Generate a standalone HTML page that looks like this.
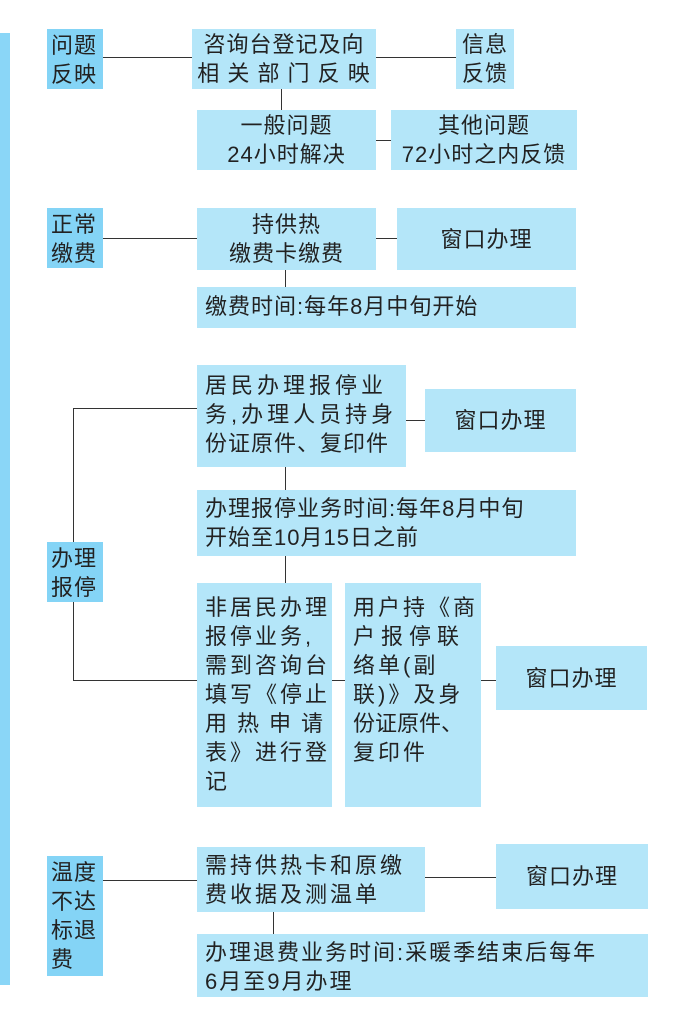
<!DOCTYPE html>
<html><head><meta charset="utf-8"><style>
body{margin:0;width:681px;height:1019px;background:#fff;position:relative;overflow:hidden;font-family:"Liberation Sans","Noto Sans CJK SC",sans-serif;color:#222}
.b{position:absolute;background:#b4e6f9;font-size:22px;line-height:29px;box-sizing:border-box;letter-spacing:1px;white-space:nowrap}
.c{background:#84d4f6;padding:2px 4px;line-height:29px}
.ctr{display:flex;align-items:center;justify-content:center;text-align:center}
.l{padding:4px 8px}
.h{position:absolute;height:1.3px;background:#333}
.v{position:absolute;width:1.3px;background:#333}
</style></head><body>
<div style="position:absolute;left:0;top:33px;width:10px;height:952px;background:#8ad6f7"></div>

<div class="h" style="left:102px;top:57px;width:90px"></div>
<div class="h" style="left:376px;top:57px;width:80px"></div>
<div class="v" style="left:281px;top:89px;height:21px"></div>
<div class="h" style="left:376px;top:140px;width:15px"></div>
<div class="h" style="left:102px;top:238px;width:95px"></div>
<div class="h" style="left:376px;top:238px;width:21px"></div>
<div class="v" style="left:285px;top:270px;height:17px"></div>
<div class="v" style="left:73px;top:408px;height:273px"></div>
<div class="h" style="left:73px;top:408px;width:124px"></div>
<div class="h" style="left:73px;top:680px;width:124px"></div>
<div class="h" style="left:406px;top:420px;width:19px"></div>
<div class="v" style="left:285px;top:467px;height:116px"></div>
<div class="h" style="left:332px;top:680px;width:13px"></div>
<div class="h" style="left:481px;top:680px;width:15px"></div>
<div class="h" style="left:102px;top:880px;width:95px"></div>
<div class="h" style="left:425px;top:877px;width:71px"></div>
<div class="v" style="left:273px;top:912px;height:22px"></div>

<div class="b c" style="left:47px;top:29px;width:56px;height:60px">问题<br>反映</div>
<div class="b c" style="left:47px;top:208px;width:56px;height:60px">正常<br>缴费</div>
<div class="b c" style="left:47px;top:542px;width:56px;height:60px">办理<br>报停</div>
<div class="b c" style="left:47px;top:856px;width:56px;height:120px">温度<br>不达<br>标退<br>费</div>

<div class="b ctr" style="left:192px;top:29px;width:184px;height:60px">咨询台登记及向<br>相 关 部 门 反 映</div>
<div class="b ctr" style="left:456px;top:29px;width:58px;height:60px">信息<br>反馈</div>
<div class="b ctr" style="left:197px;top:110px;width:179px;height:60px">一般问题<br>24小时解决</div>
<div class="b ctr" style="left:391px;top:110px;width:186px;height:60px">其他问题<br>72小时之内反馈</div>
<div class="b ctr" style="left:197px;top:208px;width:179px;height:62px">持供热<br>缴费卡缴费</div>
<div class="b ctr" style="left:397px;top:208px;width:179px;height:62px">窗口办理</div>
<div class="b l" style="left:197px;top:287px;width:379px;height:41px;padding-top:5px">缴费时间:每年8月中旬开始</div>
<div class="b l" style="left:197px;top:365px;width:209px;height:102px;padding-top:6px;letter-spacing:4px">居民办理报停业<br>务,办理人员持身<br><span style="letter-spacing:1px">份证原件、复印件</span></div>
<div class="b ctr" style="left:425px;top:389px;width:151px;height:63px">窗口办理</div>
<div class="b l" style="left:197px;top:490px;width:379px;height:66px">办理报停业务时间:每年8月中旬<br>开始至10月15日之前</div>
<div class="b l" style="left:197px;top:583px;width:135px;height:224px;padding-top:10px;letter-spacing:3px">非居民办理<br>报停业务,<br>需到咨询台<br>填写《停止<br><span style="letter-spacing:10px">用热申请</span><br>表》进行登<br>记</div>
<div class="b l" style="left:345px;top:583px;width:136px;height:224px;padding-top:10px;letter-spacing:3px">用户持《商<br><span style="letter-spacing:6px">户报停联</span><br>络单(副<br>联)》及身<br><span style="letter-spacing:0">份证原件、</span><br>复印件</div>
<div class="b ctr" style="left:496px;top:646px;width:151px;height:64px">窗口办理</div>
<div class="b l" style="left:197px;top:847px;width:228px;height:65px;letter-spacing:3px">需持供热卡和原缴<br>费收据及测温单</div>
<div class="b ctr" style="left:496px;top:844px;width:152px;height:65px">窗口办理</div>
<div class="b l" style="left:197px;top:934px;width:451px;height:63px;letter-spacing:2px">办理退费业务时间:采暖季结束后每年<br>6月至9月办理</div>
</body></html>
